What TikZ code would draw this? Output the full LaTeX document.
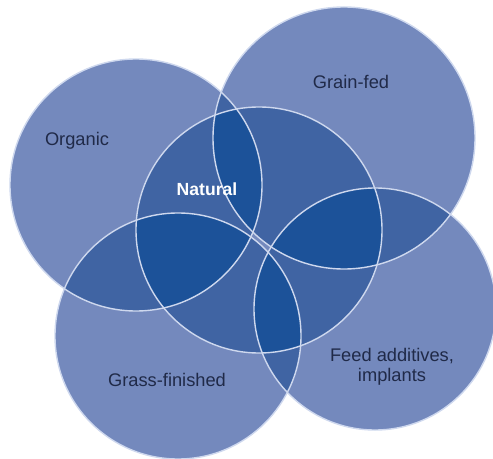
\documentclass[tikz,border=0pt]{standalone}
\usepackage{fontspec}
\setmainfont{Liberation Sans}
\definecolor{setlight}{RGB}{116,137,189}
\definecolor{setpair}{RGB}{64,100,163}
\definecolor{settriple}{RGB}{28,82,153}
\definecolor{setrim}{RGB}{206,216,238}
\definecolor{setink}{RGB}{32,42,72}

\begin{document}
\begin{tikzpicture}[
  x=0.02cm, y=-0.02cm,
  single/.style={fill=setlight},
  pair/.style={fill=setpair},
  triple/.style={fill=settriple},
  rim/.style={draw=setrim, line width=0.8pt},
  setname/.style={font=\fontsize{10.4}{11.6}\selectfont, text=setink, align=center},
  core/.style={font=\fontsize{10}{12}\bfseries, text=white},
]
\useasboundingbox (0,0) rectangle (493,459);

% === Circle centres ===
\coordinate (org) at (136,185);
\coordinate (grain) at (344,138);
\coordinate (nat) at (259,230);
\coordinate (grass) at (178,336);
\coordinate (feed) at (375,309);

% === One set ===
\foreach \c/\r in {org/126, grain/131, nat/123, grass/123, feed/121}
  \fill[single] (\c) circle[radius=\r];

% === Two sets ===
\foreach \a/\ra/\b/\rb in {org/126/grain/131, org/126/nat/123, org/126/grass/123,
    grain/131/nat/123, grain/131/feed/121, nat/123/grass/123,
    nat/123/feed/121, grass/123/feed/121}{
  \begin{scope}
    \clip (\a) circle[radius=\ra];
    \fill[pair] (\b) circle[radius=\rb];
  \end{scope}
}

% === Three sets ===
\foreach \a/\ra/\b/\rb in {org/126/grain/131, org/126/grass/123,
    grain/131/feed/121, grass/123/feed/121}{
  \begin{scope}
    \clip (nat) circle[radius=123];
    \clip (\a) circle[radius=\ra];
    \fill[triple] (\b) circle[radius=\rb];
  \end{scope}
}

% === Rims ===
\foreach \c/\r in {org/126, grain/131, nat/123, grass/123, feed/121}
  \draw[rim] (\c) circle[radius=\r];

% === Labels ===
\node[setname] (lorg) at (77,141) {Organic};
\node[setname] (lgrain) at (351,82) {Grain-fed};
\node[core] (lnat) at (207,189) {Natural};
\node[setname] (lgrass) at (167,380) {Grass-finished};
\node[setname] (lfeed) at (392,367) {Feed additives,\\implants};

\end{tikzpicture}
\end{document}
